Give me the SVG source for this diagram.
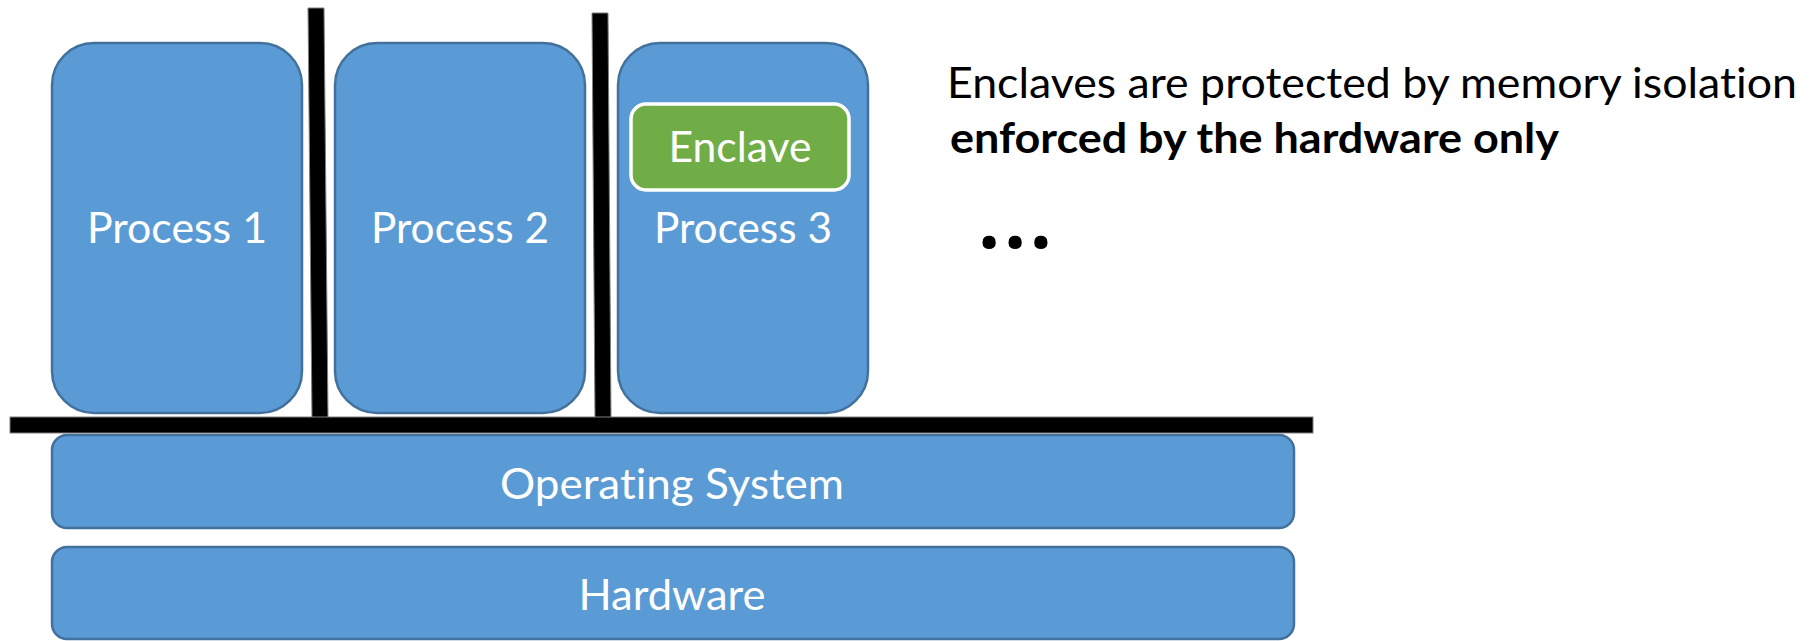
<svg xmlns="http://www.w3.org/2000/svg" width="1818" height="641" viewBox="0 0 1818 641">
  <style>
    .box { fill: #5B9BD5; stroke: #41719C; stroke-width: 2.5; }
    .enclave { fill: #70AD47; stroke: #FFFFFF; stroke-width: 3.5; }
    .label { font-family: Lato, "Open Sans", "Liberation Sans", sans-serif; font-size: 42px; fill: #FFFFFF; text-anchor: middle; font-variant-ligatures: none; }
    .note { font-family: Lato, "Open Sans", "Liberation Sans", sans-serif; font-size: 42px; fill: #000000; font-variant-ligatures: none; }
    .dots { font-family: "Open Sans", "DejaVu Sans", sans-serif; font-size: 78px; font-weight: bold; fill: #000000; }
    .bar { fill: #000000; stroke: #7f7f7f; stroke-width: 1; }
  </style>
  <rect width="1818" height="641" fill="#FFFFFF"/>

  <!-- isolation walls between processes and above the OS -->
  <g id="barriers">
    <polygon class="bar" points="308,8 324,8 328,418 312,418"/>
    <polygon class="bar" points="592,13 608,13 611,418 595,418"/>
    <rect class="bar" x="10" y="417" width="1303" height="16"/>
  </g>

  <g id="process1">
    <rect class="box" x="52" y="43" width="250" height="370" rx="42" ry="42"/>
    <text class="label" x="177" y="243" textLength="180" lengthAdjust="spacingAndGlyphs">Process 1</text>
  </g>

  <g id="process2">
    <rect class="box" x="335" y="43" width="250" height="370" rx="42" ry="42"/>
    <text class="label" x="460" y="243" textLength="178" lengthAdjust="spacingAndGlyphs">Process 2</text>
  </g>

  <g id="process3">
    <rect class="box" x="618" y="43" width="250" height="370" rx="42" ry="42"/>
    <text class="label" x="743" y="243" textLength="178" lengthAdjust="spacingAndGlyphs">Process 3</text>
  </g>

  <g id="enclave">
    <rect class="enclave" x="631" y="104" width="218" height="86" rx="15" ry="15"/>
    <text class="label" x="740" y="162" textLength="143" lengthAdjust="spacingAndGlyphs">Enclave</text>
  </g>

  <g id="os">
    <rect class="box" x="52" y="435" width="1242" height="93" rx="15" ry="15"/>
    <text class="label" x="672" y="499" textLength="344" lengthAdjust="spacingAndGlyphs">Operating System</text>
  </g>

  <g id="hardware">
    <rect class="box" x="52" y="547" width="1242" height="92" rx="15" ry="15"/>
    <text class="label" x="672" y="610" textLength="187" lengthAdjust="spacingAndGlyphs">Hardware</text>
  </g>

  <g id="caption">
    <text class="note" x="947" y="98" textLength="850" lengthAdjust="spacingAndGlyphs">Enclaves are protected by memory isolation</text>
    <text class="note" x="950" y="153" font-weight="bold" textLength="609" lengthAdjust="spacingAndGlyphs">enforced by the hardware only</text>
    <text class="dots" x="978" y="248" textLength="74" lengthAdjust="spacing">...</text>
  </g>
</svg>
